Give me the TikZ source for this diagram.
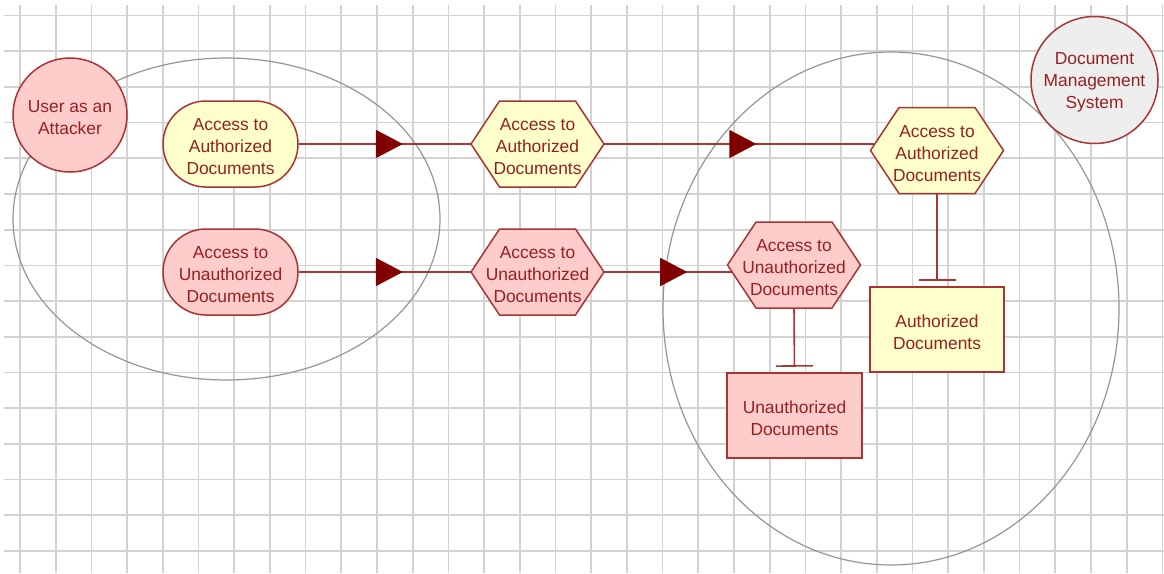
\documentclass[tikz,border=0pt]{standalone}
\usepackage{fontspec}
\setmainfont{Liberation Sans}
\usetikzlibrary{arrows.meta,decorations.markings,calc}

\definecolor{gridgray}{RGB}{210,210,210}
\definecolor{ringgray}{RGB}{150,150,150}
\definecolor{edgered}{RGB}{168,52,52}
\definecolor{inkred}{RGB}{150,32,32}
\definecolor{tipred}{RGB}{128,0,0}
\definecolor{paleyellow}{RGB}{255,255,204}
\definecolor{palepink}{RGB}{255,204,204}
\definecolor{palegray}{RGB}{238,238,238}

% a tall invisible strut on the first line sets the text block a little low
\newcommand\upstrut{\rule{0pt}{17.5pt}}

\tikzset{
  gridline/.style={gridgray, line width=1.7pt},
  zone/.style={ringgray, line width=1.2pt},
  caption/.style={text=inkred, font=\fontsize{17.4}{22}\selectfont, align=center, inner sep=0pt},
  shapeline/.style={draw=edgered, line width=1.5pt},
  actor/.style={caption, shapeline, circle},
  stadium/.style={caption, shapeline, rectangle, rounded corners=43pt, minimum width=135pt, minimum height=86pt},
  hexspot/.style={caption, rectangle, minimum width=133pt, minimum height=86pt},
  hexline/.style={shapeline, line join=miter},
  docbox/.style={caption, shapeline, rectangle, minimum width=135pt, minimum height=85pt},
  flow/.style={edgered, line width=1.6pt},
  midtip/.style={postaction={decorate}, decoration={markings,
      mark=at position #1 with {\arrow{Triangle[length=27pt,width=28pt,color=tipred]}}}},
  blocked/.style={flow, -{Bar[width=37pt,line width=1.6pt]}, shorten >=5.5pt},
}

% hexagon node: name, centre, fill colour, text
\newcommand\hexnode[4]{%
  \filldraw[hexline, fill=#3] ($#2+(-66.5,0)$) -- ++(28.5,-43) -- ++(76,0)
    -- ++(28.5,43) -- ++(-28.5,43) -- ++(-76,0) -- cycle;
  \node[hexspot] (#1) at #2 {#4};
}

\begin{document}
\begin{tikzpicture}[x=1pt, y=-1pt]
  \useasboundingbox (0,0) rectangle (1164,573);
  \fill[white] (0,0) rectangle (1164,573);

  % background grid
  \foreach \k in {0,...,32} {
    \draw[gridline] ({20+35.7*\k},5) -- ({20+35.7*\k},573);
  }
  \foreach \k in {0,...,15} {
    \draw[gridline] (4,{15.5+35.7*\k}) -- (1164,{15.5+35.7*\k});
  }

  % grouping rings
  \draw[zone] (226.5,219) ellipse [x radius=213.5, y radius=161];
  \draw[zone] (891,308.5) ellipse [x radius=228, y radius=256.5];

  % actors
  \node[actor, fill=palepink, minimum size=114pt] (attacker) at (70,115) {\upstrut User as an\\Attacker};
  \node[actor, fill=palegray, minimum size=127pt] (dms) at (1094.5,80) {\upstrut Document\\Management\\System};

  % use cases
  \node[stadium, fill=paleyellow] (useA) at (230.5,144) {\upstrut Access to\\Authorized\\Documents};
  \node[stadium, fill=palepink] (useU) at (230.5,272) {\upstrut Access to\\Unauthorized\\Documents};

  \hexnode{reqA}{(537.5,144)}{paleyellow}{\upstrut Access to\\Authorized\\Documents}
  \hexnode{reqU}{(537.5,272)}{palepink}{\upstrut Access to\\Unauthorized\\Documents}
  \hexnode{gateA}{(937,150.5)}{paleyellow}{\upstrut Access to\\Authorized\\Documents}
  \hexnode{gateU}{(794,265)}{palepink}{\upstrut Access to\\Unauthorized\\Documents}

  % document stores
  \node[docbox, fill=paleyellow, minimum width=134pt] (docA) at (937,329.5) {\upstrut Authorized\\Documents};
  \node[docbox, fill=palepink] (docU) at (794.5,415.5) {\upstrut Unauthorized\\Documents};

  % flows
  \draw[flow, midtip=0.605] (useA.east) -- (reqA.west);
  \draw[flow, midtip=0.605] (useU.east) -- (reqU.west);
  \draw[flow, midtip=0.563] (reqA.east) -- ([xshift=4pt]reqA.east -| gateA.west);
  \draw[flow, midtip=0.65] (reqU.east) -- ([xshift=4.6pt]reqU.east -| gateU.west);

  \draw[blocked] (gateA.south) -- (docA.north);
  \draw[blocked] (gateU.south) -- (docU.north);
\end{tikzpicture}
\end{document}
